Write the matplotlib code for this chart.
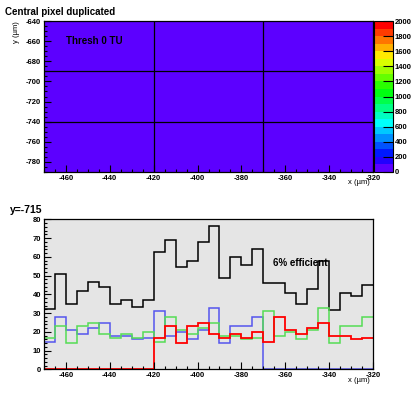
import numpy as np
import matplotlib
matplotlib.use("Agg")
import matplotlib.pyplot as plt
from matplotlib.colors import ListedColormap, BoundaryNorm, hsv_to_rgb
from matplotlib.ticker import MultipleLocator

plt.rcParams['font.family'] = ['Liberation Sans', 'DejaVu Sans']
plt.rcParams['axes.unicode_minus'] = False

# ---- data ----
map_x_edges = [-470, -420, -370, -320]
map_y_edges = [-790, -740, -690, -640]
map_values = [[0, 0, 0], [0, 0, 0], [0, 0, 0]]
color_levels = list(range(0, 2001, 100))

bin_edges = list(range(-470, -319, 5))
black = [32, 51, 35, 42, 46.4, 44, 35, 37, 33, 37,
         62.4, 68.8, 54.4, 57.8, 67.7, 76.4, 48.5, 59.7, 55.5, 64.4,
         46, 46, 40.7, 34.7, 42.8, 57.8, 31.6, 40.7, 38.9, 44.8]
blue = [14.8, 27.7, 20.8, 18.7, 21.9, 24.5, 17.6, 17.6, 16, 16.5,
        30.9, 17.6, 19.7, 16, 20.8, 32.5, 13.9, 22.9, 22.9, 27.9,
        0, 0, 0, 0, 0, 0, 0, 0, 0, 0]
green = [16.5, 22.9, 13.9, 22.9, 24.5, 18.7, 16.5, 18.7, 16.5, 19.7,
         14.8, 27.7, 20.8, 18.7, 21.9, 24.5, 17.6, 17.6, 16, 16.5,
         30.9, 17.6, 19.7, 16, 20.8, 32.5, 13.9, 22.9, 22.9, 27.7]
red = [0, 0, 0, 0, 0, 0, 0, 0, 0, 0,
       16.5, 22.9, 13.9, 22.9, 24.5, 18.7, 16.5, 18.7, 16.5, 19.7,
       14.8, 27.7, 20.8, 18.7, 21.9, 24.5, 17.6, 17.6, 16, 16.5]

W, H = 418, 393
fig = plt.figure(figsize=(W / 100, H / 100), dpi=100)

# palette: rainbow from purple to red
n = len(color_levels) - 1
hues = [0.727 * (1 - i / (n - 1)) for i in range(n)]
cols = [hsv_to_rgb((h, 1, 1)) for h in hues]
cmap = ListedColormap(cols)
norm = BoundaryNorm(color_levels, cmap.N)

def fx(px):
    return px / W

def fy(py):
    return 1 - py / H

tick_fs = 5.5

def style_axes(ax):
    ax.tick_params(which='both', direction='in', top=False, right=False,
                   labelsize=tick_fs, pad=2, width=0.8)
    ax.tick_params(which='major', length=5)
    ax.tick_params(which='minor', length=2.5)
    for lab in ax.get_xticklabels() + ax.get_yticklabels():
        lab.set_fontweight('bold')
    for s in ax.spines.values():
        s.set_linewidth(0.9)

# ---- top map ----
ax1 = fig.add_axes([fx(44), fy(172), fx(373) - fx(44), fy(21) - fy(172)])
ax1.pcolormesh(map_x_edges, map_y_edges, np.array(map_values), cmap=cmap, norm=norm,
               edgecolor='none')
for xe in map_x_edges[1:-1]:
    ax1.axvline(xe, color='black', linewidth=0.9)
for ye in map_y_edges[1:-1]:
    ax1.axhline(ye, color='black', linewidth=0.9)
ax1.set_xlim(-470, -320)
ax1.set_ylim(-790, -640)
ax1.xaxis.set_major_locator(MultipleLocator(20))
ax1.xaxis.set_minor_locator(MultipleLocator(5))
ax1.yaxis.set_major_locator(MultipleLocator(20))
ax1.yaxis.set_minor_locator(MultipleLocator(5))
style_axes(ax1)
ax1.text(-460, -660, 'Thresh 0 TU', fontsize=7, fontweight='bold', va='center', ha='left')

# colorbar
cax = fig.add_axes([fx(374), fy(172), fx(393) - fx(374), fy(21) - fy(172)])
cb = fig.colorbar(plt.cm.ScalarMappable(norm=norm, cmap=cmap), cax=cax,
                  ticks=list(range(0, 2001, 200)))
cb.outline.set_linewidth(0.8)
cax.tick_params(direction='in', length=7, width=0.8, labelsize=tick_fs, pad=1)
for lab in cax.get_yticklabels():
    lab.set_fontweight('bold')
cax.minorticks_off()

fig.text(fx(5), fy(12), 'Central pixel duplicated', fontsize=7, fontweight='bold',
         va='center', ha='left')
fig.text(fx(16), fy(21), 'y (\u00b5m)', fontsize=5.5, rotation=90, va='top', ha='center')
fig.text(fx(370), fy(183), 'x (\u00b5m)', fontsize=5.5, va='center', ha='right')

# ---- bottom histograms ----
ax2 = fig.add_axes([fx(44), fy(369.3), fx(373) - fx(44), fy(219.3) - fy(369.3)])
ax2.set_facecolor('#e5e5e5')
ax2.stairs(black, bin_edges, color='black', linewidth=1.1, baseline=None)
ax2.stairs(blue, bin_edges, color='#5555ee', linewidth=1.1, baseline=None)
ax2.stairs(green, bin_edges, color='#55dd55', linewidth=1.1, baseline=None)
ax2.stairs(red, bin_edges, color='#ff0000', linewidth=1.3, baseline=None)
ax2.set_xlim(-470, -320)
ax2.set_ylim(0, 80)
ax2.xaxis.set_major_locator(MultipleLocator(20))
ax2.xaxis.set_minor_locator(MultipleLocator(5))
ax2.yaxis.set_major_locator(MultipleLocator(10))
ax2.yaxis.set_minor_locator(MultipleLocator(2))
style_axes(ax2)
ax2.text(-353, 56.5, '6% efficient', fontsize=7, fontweight='bold', va='center', ha='center')

fig.text(fx(10), fy(210), 'y=-715', fontsize=7.5, fontweight='bold', va='center', ha='left')
fig.text(fx(370), fy(381), 'x (\u00b5m)', fontsize=5.5, va='center', ha='right')

fig.savefig('out.png', dpi=100)
